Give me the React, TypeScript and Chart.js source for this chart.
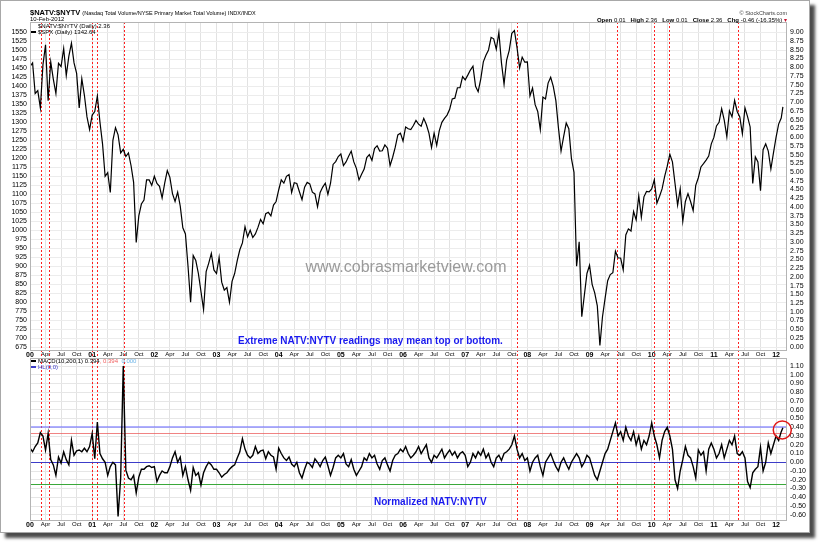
import React, { useEffect, useRef } from "react";
import { Chart, registerables } from "chart.js";

Chart.register(...registerables);

// ---------------- data ----------------
const FIRST_YEAR = 2000;
const POINTS_PER_YEAR = 24; // two readings per month (1st and 16th)
const LAST_DATE = 2012.11; // 10-Feb-2012
const X_MIN = 2000;
const X_MAX = 2012.16;

// $SPX (Daily), two readings per month
const spx2000 = [1455, 1465, 1380, 1388, 1340, 1460, 1515, 1360, 1468, 1420, 1380, 1464, 1455, 1505, 1430, 1484, 1520, 1465, 1436, 1340, 1421, 1375, 1315, 1280];
const spx2001 = [1320, 1330, 1373, 1301, 1240, 1150, 1160, 1105, 1250, 1285, 1265, 1215, 1225, 1205, 1215, 1180, 1133, 966, 1040, 1073, 1084, 1140, 1140, 1125];
const spx2002 = [1150, 1130, 1122, 1090, 1131, 1166, 1147, 1102, 1080, 1106, 1067, 1007, 990, 900, 800, 930, 916, 880, 830, 780, 885, 909, 936, 890];
const spx2003 = [880, 925, 856, 834, 841, 800, 858, 880, 916, 946, 965, 1010, 982, 1000, 980, 990, 1008, 1030, 1018, 1046, 1050, 1040, 1070, 1080];
const spx2004 = [1112, 1140, 1131, 1150, 1155, 1105, 1132, 1130, 1107, 1085, 1120, 1133, 1129, 1106, 1101, 1065, 1105, 1120, 1131, 1100, 1130, 1183, 1191, 1205];
const spx2005 = [1212, 1180, 1190, 1206, 1220, 1190, 1172, 1140, 1156, 1170, 1202, 1210, 1194, 1227, 1235, 1220, 1221, 1237, 1228, 1180, 1203, 1231, 1265, 1270];
const spx2006 = [1248, 1287, 1282, 1280, 1291, 1305, 1295, 1289, 1311, 1294, 1270, 1230, 1270, 1236, 1277, 1300, 1311, 1320, 1336, 1365, 1367, 1396, 1396, 1427];
const spx2007 = [1418, 1431, 1445, 1456, 1400, 1385, 1420, 1468, 1486, 1501, 1536, 1532, 1503, 1550, 1465, 1406, 1473, 1500, 1547, 1555, 1508, 1451, 1481, 1467];
const spx2008 = [1468, 1373, 1395, 1349, 1330, 1280, 1370, 1365, 1409, 1425, 1400, 1360, 1284, 1220, 1260, 1298, 1282, 1200, 1161, 900, 968, 760, 820, 880];
const spx2009 = [903, 850, 826, 790, 680, 760, 811, 860, 877, 882, 942, 923, 923, 890, 987, 1004, 998, 1052, 1029, 1096, 1036, 1093, 1108, 1107];
const spx2010 = [1115, 1140, 1075, 1094, 1115, 1150, 1178, 1211, 1190, 1130, 1070, 1115, 1025, 1080, 1102, 1080, 1055, 1125, 1146, 1176, 1185, 1195, 1206, 1240];
const spx2011 = [1258, 1290, 1300, 1338, 1306, 1260, 1332, 1315, 1361, 1330, 1315, 1268, 1340, 1316, 1287, 1130, 1204, 1190, 1110, 1224, 1240, 1220, 1170, 1215];
const spx2012 = [1258, 1295, 1312];
const spxLast = 1342.64;

// Normalized NATV:NYTV (MACD(10,200,1)), two readings per month
const macd2000 = [0.16, 0.12, 0.18, 0.22, 0.34, 0.30, 0.14, 0.33, 0.03, -0.03, -0.15, 0.06, -0.01, 0.12, 0.03, -0.03, 0.25, 0.08, 0.13, 0.14, 0.12, 0.16, 0.12, 0.18];
const macd2001 = [0.33, 0.04, 0.46, 0.10, 0.04, 0.0, -0.15, -0.05, 0.0, -0.03, -0.62, -0.18, 1.10, -0.09, -0.18, -0.20, -0.15, -0.35, -0.17, -0.08, -0.08, -0.05, -0.04, -0.06];
const macd2002 = [-0.05, -0.22, -0.15, -0.10, -0.12, -0.12, -0.05, 0.05, 0.12, 0.0, 0.06, -0.15, -0.05, -0.20, -0.32, -0.06, -0.15, -0.12, -0.26, -0.12, -0.05, 0.0, -0.03, -0.08];
const macd2003 = [-0.08, -0.12, -0.17, -0.14, -0.12, -0.08, -0.05, -0.03, 0.05, 0.12, 0.27, 0.15, 0.08, 0.05, 0.08, 0.18, 0.10, 0.13, 0.14, 0.04, 0.12, 0.08, 0.06, -0.08];
const macd2004 = [0.16, 0.10, 0.05, 0.02, 0.06, -0.02, -0.05, 0.0, -0.12, -0.18, -0.08, 0.0, -0.02, -0.06, 0.04, 0.0, -0.05, 0.02, 0.06, -0.04, -0.15, -0.06, 0.05, 0.08];
const macd2005 = [0.05, 0.10, -0.02, -0.05, 0.03, -0.08, -0.15, -0.10, -0.05, 0.05, 0.02, 0.10, 0.05, 0.08, -0.02, -0.08, 0.02, 0.05, -0.03, -0.10, 0.02, 0.08, 0.10, 0.15];
const macd2006 = [0.12, 0.18, 0.10, 0.05, 0.08, 0.12, 0.18, 0.10, 0.15, 0.20, 0.05, 0.0, 0.08, 0.05, 0.10, 0.15, 0.05, 0.10, 0.14, 0.08, 0.12, 0.05, 0.10, 0.12];
const macd2007 = [0.08, -0.05, 0.0, 0.10, 0.05, 0.12, 0.08, 0.15, 0.05, 0.10, 0.0, -0.05, 0.05, 0.08, 0.02, 0.10, 0.12, 0.15, 0.20, 0.30, 0.15, 0.05, 0.10, 0.02];
const macd2008 = [0.05, -0.10, 0.0, 0.05, 0.08, -0.05, -0.15, 0.0, 0.05, 0.10, 0.02, -0.05, -0.10, 0.0, 0.05, -0.02, -0.08, 0.0, 0.05, 0.10, 0.05, -0.05, 0.0, 0.08];
const macd2009 = [0.05, -0.05, -0.15, -0.20, -0.10, 0.0, 0.10, 0.15, 0.25, 0.35, 0.45, 0.30, 0.35, 0.25, 0.40, 0.30, 0.25, 0.35, 0.20, 0.30, 0.15, 0.25, 0.20, 0.30];
const macd2010 = [0.45, 0.30, 0.20, 0.05, 0.25, 0.35, 0.40, 0.30, 0.15, -0.20, -0.30, -0.10, 0.03, 0.18, 0.08, 0.05, -0.05, -0.18, 0.14, 0.08, 0.12, -0.10, 0.15, 0.22];
const macd2011 = [0.15, 0.05, 0.10, 0.20, 0.05, 0.15, 0.25, 0.20, 0.30, 0.10, 0.08, 0.12, 0.05, -0.22, -0.29, -0.12, -0.08, -0.05, 0.17, -0.10, 0.0, 0.22, 0.10, 0.20];
const macd2012 = [0.30, 0.25, 0.35];
const macdLast = 0.394;

// Signal dates (red dashed verticals)
const signalDates = [2000.172, 2000.301, 2001.002, 2001.083, 2001.517, 2007.829, 2009.442, 2010.029, 2010.275, 2011.38];

// Axis labels
const yearLabels = ["00", "01", "02", "03", "04", "05", "06", "07", "08", "09", "10", "11", "12"];
const quarterLabels = ["", "Apr", "Jul", "Oct"];
const SPX_TICK_MIN = 675, SPX_TICK_MAX = 1550, SPX_TICK_STEP = 25;
const RATIO_TICK_MIN = 0, RATIO_TICK_MAX = 9, RATIO_TICK_STEP = 0.25;
const MACD_TICK_MIN = -0.6, MACD_TICK_MAX = 1.1, MACD_TICK_STEP = 0.1;

// Reference levels in lower panel
const levelValues = [0.40, 0.33, 0.0, -0.25];
const levelColors = ["rgba(110,110,255,0.55)", "rgba(235,90,90,0.75)", "#3c3cc8", "#3aa83a"];
const levelWidths = [2, 1, 1, 1];

// highlighted reading
const circleDate = 2012.1;
const circleValue = 0.37;

// ---------------- helpers ----------------
const FONT = '"Liberation Sans", Arial, Helvetica, sans-serif';

function buildTicks(min: number, max: number, step: number) {
  const out: number[] = [];
  const n = Math.round((max - min) / step);
  for (let i = 0; i <= n; i++) out.push(Math.round((min + i * step) * 1000) / 1000);
  return out;
}
const spxTickValues = buildTicks(SPX_TICK_MIN, SPX_TICK_MAX, SPX_TICK_STEP);
const ratioTickValues = buildTicks(RATIO_TICK_MIN, RATIO_TICK_MAX, RATIO_TICK_STEP);
const macdTickValues = buildTicks(MACD_TICK_MIN, MACD_TICK_MAX, MACD_TICK_STEP);
const quarterTickValues: number[] = [];
for (let y = 2000; y <= 2012; y++) for (let q = 0; q < 4; q++) { const v = y + q * 0.25; if (v <= X_MAX) quarterTickValues.push(v); }

function toPoints(values: number[], last: number) {
  const pts = values.map((v, i) => ({ x: FIRST_YEAR + i / POINTS_PER_YEAR, y: v }));
  pts.push({ x: LAST_DATE, y: last });
  return pts;
}

const spxValues = [...spx2000, ...spx2001, ...spx2002, ...spx2003, ...spx2004, ...spx2005, ...spx2006, ...spx2007, ...spx2008, ...spx2009, ...spx2010, ...spx2011, ...spx2012];
const macdValues = [...macd2000, ...macd2001, ...macd2002, ...macd2003, ...macd2004, ...macd2005, ...macd2006, ...macd2007, ...macd2008, ...macd2009, ...macd2010, ...macd2011, ...macd2012];

type Run = { t: string; c?: string; b?: boolean; s?: number };
function drawRuns(ctx: CanvasRenderingContext2D, x: number, y: number, runs: Run[], size: number, align: "left" | "right" | "center" = "left") {
  ctx.save();
  ctx.textBaseline = "middle";
  ctx.textAlign = "left";
  const widths = runs.map((r) => {
    ctx.font = `${r.b ? "bold " : ""}${r.s || size}px ${FONT}`;
    return ctx.measureText(r.t).width;
  });
  const total = widths.reduce((a, b) => a + b, 0);
  let cx = align === "right" ? x - total : align === "center" ? x - total / 2 : x;
  runs.forEach((r, i) => {
    ctx.font = `${r.b ? "bold " : ""}${r.s || size}px ${FONT}`;
    ctx.fillStyle = r.c || "#000";
    ctx.fillText(r.t, cx, y);
    cx += widths[i];
  });
  ctx.restore();
}

function xLabel(value: number) {
  const v = Number(value);
  const year = Math.floor(v + 1e-6);
  const q = Math.round((v - year) * 4);
  return q === 0 ? yearLabels[year - 2000] : quarterLabels[q];
}
function xFont(ctx: any) {
  const v = ctx && ctx.tick ? ctx.tick.value : 0.5;
  const isYear = Math.abs(v - Math.round(v)) < 1e-6;
  return { family: FONT, size: isYear ? 7 : 6, weight: isYear ? "bold" : "normal" } as any;
}

function drawSignals(chart: any, y0: number, y1: number) {
  const { ctx, scales } = chart;
  ctx.save();
  ctx.strokeStyle = "#ff2020";
  ctx.lineWidth = 1;
  ctx.setLineDash([2, 2]);
  for (const d of signalDates) {
    const x = Math.round(scales.x.getPixelForValue(d)) + 0.5;
    ctx.beginPath();
    ctx.moveTo(x, y0);
    ctx.lineTo(x, y1);
    ctx.stroke();
  }
  ctx.restore();
}
function drawFrame(chart: any) {
  const { ctx, chartArea: a } = chart;
  ctx.save();
  ctx.strokeStyle = "#b4b4b4";
  ctx.lineWidth = 1;
  ctx.strokeRect(Math.round(a.left) + 0.5, Math.round(a.top) + 0.5, Math.round(a.right - a.left), Math.round(a.bottom - a.top));
  ctx.restore();
}

const topOverlay = {
  id: "topOverlay",
  beforeDatasetsDraw(chart: any) {
    drawSignals(chart, chart.chartArea.top, chart.height);
  },
  afterDraw(chart: any) {
    const ctx: CanvasRenderingContext2D = chart.ctx;
    drawFrame(chart);
    drawRuns(ctx, 30, 13, [
      { t: "$NATV:$NYTV ", b: true, s: 7.5 },
      { t: "(Nasdaq Total Volume/NYSE Primary Market Total Volume) INDX/INDX", s: 5.5 },
    ], 6);
    drawRuns(ctx, 30, 19.5, [{ t: "10-Feb-2012" }], 6);
    drawRuns(ctx, 787, 13, [{ t: "© StockCharts.com", c: "#444" }], 5.5, "right");
    drawRuns(ctx, 787, 20, [
      { t: "Open", b: true }, { t: " 0.01   " },
      { t: "High", b: true }, { t: " 2.36   " },
      { t: "Low", b: true }, { t: " 0.01   " },
      { t: "Close", b: true }, { t: " 2.36   " },
      { t: "Chg", b: true }, { t: " -0.46 (-16.35%) " },
      { t: "▾", c: "#c8102e" },
    ], 6, "right");
    drawRuns(ctx, 38, 26, [{ t: "$NATV:$NYTV (Daily) 2.36" }], 6);
    ctx.save();
    ctx.fillStyle = "#000";
    ctx.fillRect(31, 31, 5, 2);
    ctx.restore();
    drawRuns(ctx, 38, 32, [{ t: "$SPX (Daily) 1342.64" }], 6);
    drawRuns(ctx, 406, 268, [{ t: "www.cobrasmarketview.com", c: "#9a9a9a" }], 16, "center");
    drawRuns(ctx, 238, 341, [{ t: "Extreme NATV:NYTV readings may mean top or bottom.", b: true, c: "#1a1aee" }], 10);
  },
};

const bottomOverlay = {
  id: "bottomOverlay",
  beforeDatasetsDraw(chart: any) {
    const { ctx, chartArea: a, scales } = chart;
    drawSignals(chart, a.top, a.bottom);
    ctx.save();
    levelValues.forEach((v, i) => {
      const y = Math.round(scales.y.getPixelForValue(v)) + (levelWidths[i] % 2 ? 0.5 : 0);
      ctx.strokeStyle = levelColors[i];
      ctx.lineWidth = levelWidths[i];
      ctx.beginPath();
      ctx.moveTo(a.left, y);
      ctx.lineTo(a.right, y);
      ctx.stroke();
    });
    ctx.restore();
  },
  afterDraw(chart: any) {
    const { ctx, scales } = chart;
    drawFrame(chart);
    ctx.save();
    ctx.fillStyle = "#000";
    ctx.fillRect(31, 20, 5, 2);
    ctx.fillStyle = "#3c3cc8";
    ctx.fillRect(31, 26, 5, 2);
    ctx.restore();
    drawRuns(ctx, 38, 21, [
      { t: "MACD(10,200,1) 0.394" },
      { t: ", 0.394", c: "#f06060" },
      { t: "  0.000", c: "#6cb4e8" },
    ], 6);
    drawRuns(ctx, 38, 27, [{ t: "HL(0,0)", c: "#3c3cc8" }], 6);
    drawRuns(ctx, 374, 162, [{ t: "Normalized NATV:NYTV", b: true, c: "#1a1aee" }], 10);
    const cx = scales.x.getPixelForValue(circleDate);
    const cy = scales.y.getPixelForValue(circleValue);
    ctx.save();
    ctx.strokeStyle = "#e01818";
    ctx.lineWidth = 1.5;
    ctx.beginPath();
    ctx.arc(cx, cy, 9, 0, Math.PI * 2);
    ctx.stroke();
    ctx.restore();
  },
};

function xScale() {
  return {
    type: "linear" as const,
    min: X_MIN,
    max: X_MAX,
    afterBuildTicks: (s: any) => { s.ticks = quarterTickValues.map((v) => ({ value: v })); },
    afterFit: (s: any) => { s.height = 12; },
    grid: { color: "#e2e2e2", drawTicks: false, lineWidth: 1 },
    border: { display: false },
    ticks: { autoSkip: false, maxRotation: 0, minRotation: 0, padding: 1, color: "#000", font: xFont, callback: (v: any) => xLabel(v) },
  };
}

export default function App() {
  const topRef = useRef<HTMLCanvasElement>(null);
  const botRef = useRef<HTMLCanvasElement>(null);

  useEffect(() => {
    const top = new Chart(topRef.current as HTMLCanvasElement, {
      type: "line",
      data: {
        datasets: [
          { label: "$SPX", data: toPoints(spxValues, spxLast), yAxisID: "y", borderColor: "#000", borderWidth: 1.2, pointRadius: 0, tension: 0, fill: false },
        ],
      },
      options: {
        animation: false,
        responsive: false,
        maintainAspectRatio: false,
        parsing: false as any,
        layout: { padding: { top: 22, left: 0, right: 0, bottom: 0 } },
        plugins: { legend: { display: false }, tooltip: { enabled: false } },
        scales: {
          x: xScale() as any,
          y: {
            position: "left",
            min: 667.5,
            max: 1578.6,
            afterBuildTicks: (s: any) => { s.ticks = spxTickValues.map((v) => ({ value: v })); },
            afterFit: (s: any) => { s.width = 30; },
            grid: { color: "#ececec", drawTicks: false },
            border: { display: false },
            ticks: { autoSkip: false, padding: 3, color: "#000", font: { family: FONT, size: 7 }, callback: (v: any) => String(v) },
          },
          y2: {
            position: "right",
            min: -0.094,
            max: 9.296,
            afterBuildTicks: (s: any) => { s.ticks = ratioTickValues.map((v) => ({ value: v })); },
            afterFit: (s: any) => { s.width = 34; },
            grid: { display: false, drawTicks: false },
            border: { display: false },
            ticks: { autoSkip: false, padding: 4, color: "#000", font: { family: FONT, size: 7 }, callback: (v: any) => Number(v).toFixed(2) },
          },
        },
      },
      plugins: [topOverlay],
    } as any);

    const bot = new Chart(botRef.current as HTMLCanvasElement, {
      type: "line",
      data: {
        datasets: [
          { label: "Normalized NATV:NYTV", data: toPoints(macdValues, macdLast), yAxisID: "y", borderColor: "#000", borderWidth: 1.4, pointRadius: 0, tension: 0, fill: false },
        ],
      },
      options: {
        animation: false,
        responsive: false,
        maintainAspectRatio: false,
        parsing: false as any,
        layout: { padding: { top: 18, left: 30, right: 0, bottom: 10 } },
        plugins: { legend: { display: false }, tooltip: { enabled: false } },
        scales: {
          x: xScale() as any,
          y: {
            position: "right",
            min: -0.66,
            max: 1.192,
            afterBuildTicks: (s: any) => { s.ticks = macdTickValues.map((v) => ({ value: v })); },
            afterFit: (s: any) => { s.width = 34; },
            grid: { color: "#e6e6e6", drawTicks: false },
            border: { display: false },
            ticks: { autoSkip: false, padding: 4, color: "#000", font: { family: FONT, size: 7 }, callback: (v: any) => Number(v).toFixed(2) },
          },
        },
      },
      plugins: [bottomOverlay],
    } as any);

    return () => {
      top.destroy();
      bot.destroy();
    };
  }, []);

  return (
    <div style={{ position: "fixed", left: 0, top: 0, width: 820, height: 542, background: "#fff", overflow: "hidden" }}>
      <div
        style={{
          position: "absolute",
          left: 0,
          top: 0,
          width: 810,
          height: 533,
          boxSizing: "border-box",
          border: "1px solid #a8a8a8",
          boxShadow: "5px 5px 3px rgba(0,0,0,0.7)",
          background: "#fff",
        }}
      />
      <canvas ref={topRef} width={820} height={362} style={{ position: "absolute", left: 0, top: 0 }} />
      <canvas ref={botRef} width={820} height={202} style={{ position: "absolute", left: 0, top: 340 }} />
    </div>
  );
}
